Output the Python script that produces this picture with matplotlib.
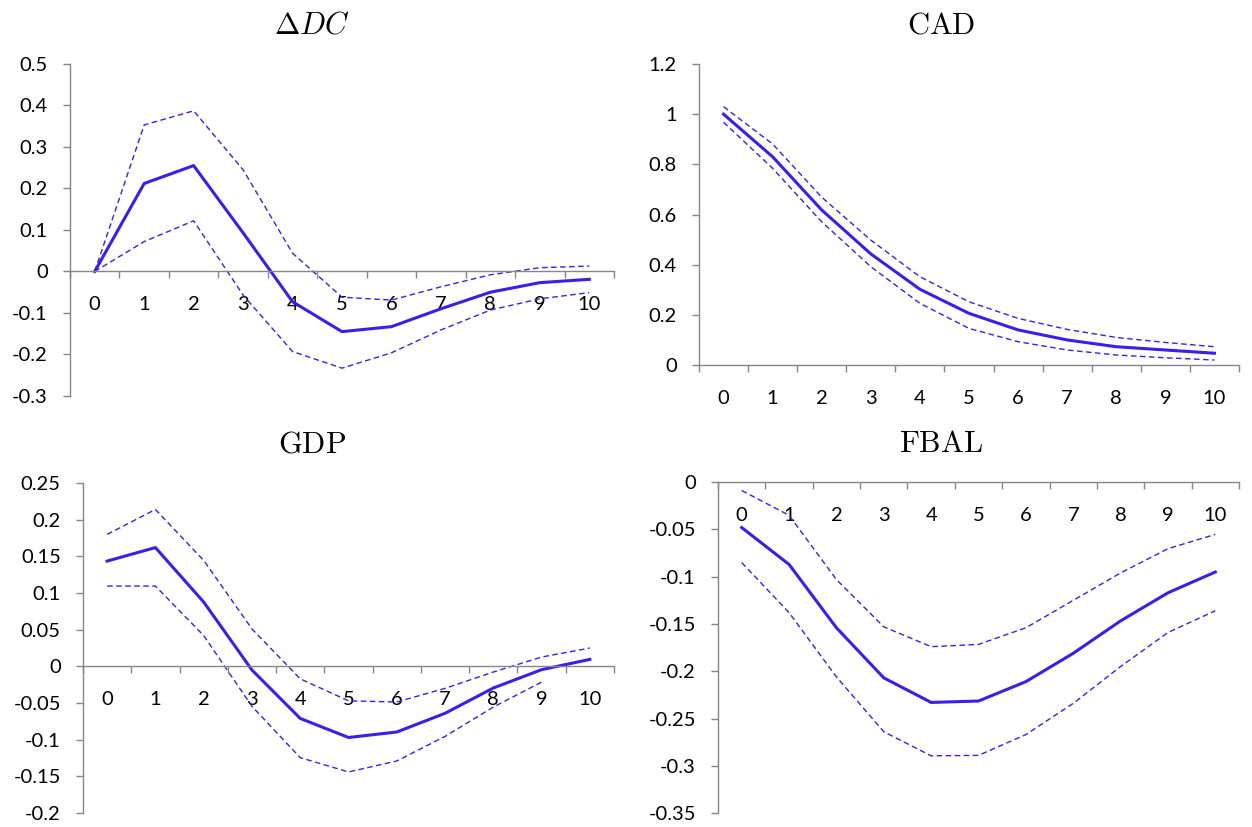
import numpy as np
import matplotlib
matplotlib.use('Agg')
from matplotlib import pyplot as plt
from matplotlib.ticker import FixedLocator, NullFormatter, FixedFormatter

plt.rcParams['font.family'] = ['Lato', 'DejaVu Sans']
plt.rcParams['mathtext.fontset'] = 'cm'
plt.rcParams['axes.unicode_minus'] = False

horizon = list(range(11))

dc_mid = [0, 0.212, 0.255, 0.093, -0.073, -0.145, -0.133, -0.09, -0.05, -0.027, -0.019]
dc_hi = [0, 0.353, 0.387, 0.245, 0.044, -0.062, -0.069, -0.037, -0.008, 0.009, 0.013]
dc_lo = [0, 0.072, 0.122, -0.057, -0.193, -0.233, -0.196, -0.141, -0.093, -0.066, -0.051]

cad_mid = [1.0, 0.83, 0.618, 0.443, 0.302, 0.206, 0.14, 0.1, 0.073, 0.06, 0.047]
cad_hi = [1.03, 0.881, 0.669, 0.498, 0.352, 0.252, 0.186, 0.142, 0.11, 0.09, 0.073]
cad_lo = [0.968, 0.784, 0.571, 0.392, 0.246, 0.146, 0.093, 0.06, 0.04, 0.029, 0.02]

gdp_mid = [0.1436, 0.162, 0.0877, -0.005, -0.071, -0.097, -0.0895, -0.064, -0.0295, -0.0045, 0.0095]
gdp_hi = [0.18, 0.214, 0.1445, 0.051, -0.017, -0.047, -0.0486, -0.030, -0.0077, 0.0127, 0.025]
gdp_lo = [0.1095, 0.1095, 0.042, -0.0545, -0.1245, -0.144, -0.129, -0.0955, -0.0555, -0.0214, np.nan]

fbal_mid = [-0.048, -0.087, -0.154, -0.207, -0.233, -0.2315, -0.211, -0.181, -0.1467, -0.117, -0.095]
fbal_hi = [-0.0088, -0.035, -0.103, -0.153, -0.174, -0.1716, -0.154, -0.125, -0.096, -0.0703, -0.0552]
fbal_lo = [-0.085, -0.138, -0.206, -0.264, -0.2895, -0.289, -0.267, -0.234, -0.195, -0.159, -0.136]

dc_ticks = [0.5, 0.4, 0.3, 0.2, 0.1, 0, -0.1, -0.2, -0.3]
cad_ticks = [1.2, 1, 0.8, 0.6, 0.4, 0.2, 0]
gdp_ticks = [0.25, 0.2, 0.15, 0.1, 0.05, 0, -0.05, -0.1, -0.15, -0.2]
fbal_ticks = [0, -0.05, -0.1, -0.15, -0.2, -0.25, -0.3, -0.35]

panels = [
    (r'$\Delta DC$', dc_mid, dc_hi, dc_lo, dc_ticks, [0.0559, 0.5212, 0.4345, 0.4015], (0.249, 0.970)),
    (r'$\mathrm{CAD}$', cad_mid, cad_hi, cad_lo, cad_ticks, [0.5583, 0.5586, 0.4313, 0.3640], (0.752, 0.970)),
    (r'$\mathrm{GDP}$', gdp_mid, gdp_hi, gdp_lo, gdp_ticks, [0.0663, 0.0169, 0.4241, 0.3990], (0.249, 0.464)),
    (r'$\mathrm{FBAL}$', fbal_mid, fbal_hi, fbal_lo, fbal_ticks, [0.5735, 0.0169, 0.4161, 0.4000], (0.752, 0.464)),
]

blue = '#3A1EEB'
grey = '#868686'

fig = plt.figure(figsize=(12.52, 8.27), dpi=100)

for title, mid, hi, lo, yt, rect, tpos in panels:
    ax = fig.add_axes(rect)
    ax.plot(horizon, hi, color=blue, lw=1.0, dashes=(4, 2.5))
    ax.plot(horizon, lo, color=blue, lw=1.0, dashes=(4, 2.5))
    ax.plot(horizon, mid, color=blue, lw=2.2)
    ax.set_xlim(-0.5, 10.5)
    ax.set_ylim(min(yt), max(yt))

    for s in ['top', 'right']:
        ax.spines[s].set_visible(False)
    ax.spines['bottom'].set_position(('data', 0))
    for s in ['left', 'bottom']:
        ax.spines[s].set_color(grey)
        ax.spines[s].set_linewidth(1.0)

    ax.yaxis.set_major_locator(FixedLocator(yt))
    ax.yaxis.set_major_formatter(FixedFormatter([f'{v:g}' for v in yt]))
    ax.tick_params(axis='y', which='major', direction='out', length=5, width=1,
                   color=grey, pad=11, labelsize=14.5)

    ax.xaxis.set_major_locator(FixedLocator(np.arange(-0.5, 11, 1)))
    ax.xaxis.set_major_formatter(NullFormatter())
    ax.xaxis.set_minor_locator(FixedLocator(horizon))
    ax.xaxis.set_minor_formatter(FixedFormatter([str(h) for h in horizon]))
    ax.tick_params(axis='x', which='major', direction='out', length=5, width=1, color=grey)
    ax.tick_params(axis='x', which='minor', length=0, pad=18, labelsize=14.5)
    ax.patch.set_alpha(0)

    fig.text(tpos[0], tpos[1], title, ha='center', va='center', fontsize=22)

fig.savefig('out.png', dpi=100)
